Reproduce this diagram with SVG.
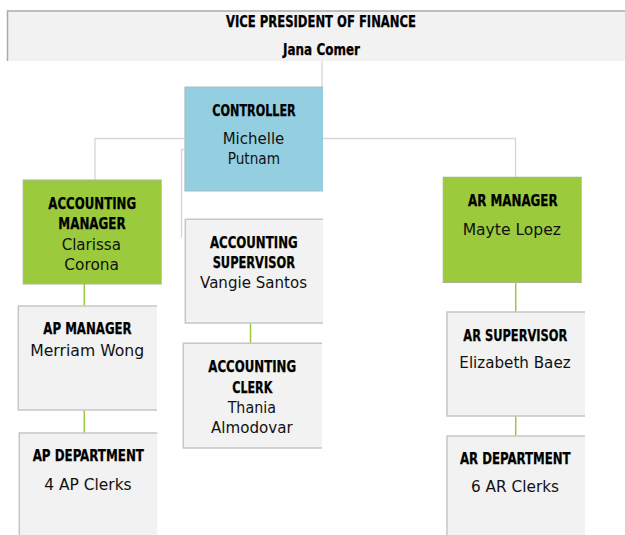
<svg xmlns="http://www.w3.org/2000/svg" width="625" height="535" viewBox="0 0 625 535">
<style>
.t{font-family:"DejaVu Sans Condensed","DejaVu Sans",sans-serif;font-weight:bold;font-stretch:condensed;font-size:15.5px;fill:#000;text-anchor:middle;stroke:#000;stroke-width:0.25}
.n{font-family:"DejaVu Sans","Liberation Sans",sans-serif;font-size:15.5px;fill:#111;text-anchor:middle}
.gray{fill:#f2f2f2}
.green{fill:#9bca3d}
.blue{fill:#93cfe0}
.bg{fill:none;stroke:#c6c6c6;stroke-width:1.5}
.bgr{fill:none;stroke:#a9b393;stroke-width:1.2}
.bb{fill:none;stroke:#a9bcc2;stroke-width:1.2}
.cg{fill:none;stroke:#d6d6d6;stroke-width:1.3}
.cn{fill:none;stroke:#9bca3d;stroke-width:1.5}
</style>
<rect width="625" height="535" fill="#fff"/>
<g id="connectors">
<path class="cg" d="M322,61 V87"/>
<path class="cg" d="M185,138.5 H95 V180"/>
<path class="cg" d="M323,138.5 H515.5 V177"/>
<path class="cg" d="M185,149.5 H181.5 V238"/>
<path class="cn" d="M250.5,323 V343"/>
<path class="cn" d="M84.3,284 V306"/>
<path class="cn" d="M84.3,408 V437"/>
<path class="cn" d="M515.7,282 V312"/>
<path class="cn" d="M515.7,416 V436"/>
</g>
<g id="vp">
<rect x="7.5" y="11" width="630" height="50" fill="#f2f2f2"/>
<path d="M7.5,61 V11 H630" fill="none" stroke="#aaaaaa" stroke-width="1.5"/>
<text class="t" x="321" y="27" font-size="15" textLength="190" lengthAdjust="spacingAndGlyphs">VICE PRESIDENT OF FINANCE</text>
<text class="t" x="321.5" y="55" font-size="15" textLength="77" lengthAdjust="spacingAndGlyphs">Jana Comer</text>
</g>
<g id="controller">
<rect class="blue" x="185" y="87" width="138" height="104"/>
<path class="bb" d="M323,87 H185 V191 H323"/>
<text class="t" x="254" y="115.7" textLength="83.3" lengthAdjust="spacingAndGlyphs">CONTROLLER</text>
<text class="n" x="253.5" y="144.3" textLength="61.6" lengthAdjust="spacingAndGlyphs">Michelle</text>
<text class="n" x="253.8" y="164" textLength="52.3" lengthAdjust="spacingAndGlyphs">Putnam</text>
</g>
<g id="accounting-manager">
<rect class="green" x="23.3" y="180" width="138.4" height="104"/>
<path class="bgr" d="M161.7,180 H23.3 V284 H161.7"/>
<text class="t" x="92.2" y="209" textLength="87.7" lengthAdjust="spacingAndGlyphs">ACCOUNTING</text>
<text class="t" x="92" y="229.3" textLength="67.3" lengthAdjust="spacingAndGlyphs">MANAGER</text>
<text class="n" x="91.3" y="250" textLength="59.3" lengthAdjust="spacingAndGlyphs">Clarissa</text>
<text class="n" x="91.7" y="270" textLength="54.7" lengthAdjust="spacingAndGlyphs">Corona</text>
</g>
<g id="accounting-supervisor">
<rect class="gray" x="185.3" y="219.3" width="137.7" height="103.7"/>
<path class="bg" d="M323,219.3 H185.3 V323 H323"/>
<text class="t" x="253.8" y="247.7" textLength="87.7" lengthAdjust="spacingAndGlyphs">ACCOUNTING</text>
<text class="t" x="253.8" y="268" textLength="82.3" lengthAdjust="spacingAndGlyphs">SUPERVISOR</text>
<text class="n" x="253.5" y="288" textLength="107" lengthAdjust="spacingAndGlyphs">Vangie Santos</text>
</g>
<g id="accounting-clerk">
<rect class="gray" x="183.3" y="343.3" width="138.7" height="104.7"/>
<path class="bg" d="M322,343.3 H183.3 V448 H322"/>
<text class="t" x="252.2" y="372" textLength="87.7" lengthAdjust="spacingAndGlyphs">ACCOUNTING</text>
<text class="t" x="252.3" y="392.7" textLength="40" lengthAdjust="spacingAndGlyphs">CLERK</text>
<text class="n" x="251.8" y="413" textLength="48.3" lengthAdjust="spacingAndGlyphs">Thania</text>
<text class="n" x="251.8" y="433" textLength="81.7" lengthAdjust="spacingAndGlyphs">Almodovar</text>
</g>
<g id="ar-manager">
<rect class="green" x="443.3" y="177.3" width="138.4" height="105"/>
<path class="bgr" d="M581.7,177.3 H443.3 V282.3 H581.7"/>
<text class="t" x="512.8" y="206" textLength="89.7" lengthAdjust="spacingAndGlyphs">AR MANAGER</text>
<text class="n" x="511.8" y="235" textLength="98.3" lengthAdjust="spacingAndGlyphs">Mayte Lopez</text>
</g>
<g id="ap-manager">
<rect class="gray" x="18.3" y="306" width="138.7" height="104"/>
<path class="bg" d="M157,306 H18.3 V410 H157"/>
<text class="t" x="87.5" y="334.3" textLength="88.3" lengthAdjust="spacingAndGlyphs">AP MANAGER</text>
<text class="n" x="87.2" y="356" textLength="114" lengthAdjust="spacingAndGlyphs">Merriam Wong</text>
</g>
<g id="ap-department">
<rect class="gray" x="19.3" y="433" width="138" height="110"/>
<path class="bg" d="M157.3,433 H19.3 V545"/>
<text class="t" x="88.3" y="461" textLength="111.3" lengthAdjust="spacingAndGlyphs">AP DEPARTMENT</text>
<text class="n" x="88" y="490" textLength="87.3" lengthAdjust="spacingAndGlyphs">4 AP Clerks</text>
</g>
<g id="ar-supervisor">
<rect class="gray" x="447" y="312" width="138" height="104"/>
<path class="bg" d="M585,312 H447 V416 H585"/>
<text class="t" x="515.3" y="340.7" textLength="104" lengthAdjust="spacingAndGlyphs">AR SUPERVISOR</text>
<text class="n" x="515" y="368" textLength="111.3" lengthAdjust="spacingAndGlyphs">Elizabeth Baez</text>
</g>
<g id="ar-department">
<rect class="gray" x="447" y="436" width="138" height="110"/>
<path class="bg" d="M585,436 H447 V545"/>
<text class="t" x="515.3" y="464" textLength="110.7" lengthAdjust="spacingAndGlyphs">AR DEPARTMENT</text>
<text class="n" x="515" y="492" textLength="88" lengthAdjust="spacingAndGlyphs">6 AR Clerks</text>
</g>
</svg>
